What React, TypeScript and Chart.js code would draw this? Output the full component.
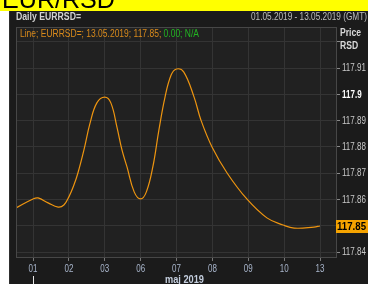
import React, { useEffect, useRef } from "react";
import { Chart, registerables } from "chart.js";

Chart.register(...registerables);

const dayLabels = ["01", "02", "03", "06", "07", "08", "09", "10", "13"];
const yTickValues = [117.84, 117.85, 117.86, 117.87, 117.88, 117.89, 117.9, 117.91, 117.92];
const yTickLabels = ["117.84", "", "117.86", "117.87", "117.88", "117.89", "117.9", "117.91", ""];
// x positions in trading-day index units (0 = 01.05)
const seriesX = [
  -0.474, 0, 0.14, 0.42, 0.7, 0.86, 1.0, 1.14, 1.25, 1.42, 1.59, 1.78, 2.0, 2.17, 2.34,
  2.48, 2.62, 2.82, 3.0, 3.16, 3.34, 3.51, 3.68, 3.85, 4.0, 4.2, 4.49, 4.68, 4.99, 5.41,
  5.96, 6.52, 6.97, 7.28, 7.83, 8.0,
];
const seriesY = [
  117.8568, 117.8602, 117.8606, 117.8587, 117.8571, 117.8579, 117.861, 117.8655, 117.870,
  117.8789, 117.8891, 117.8968, 117.899, 117.8968, 117.8876, 117.8789, 117.8724, 117.8629,
  117.8602, 117.8629, 117.8724, 117.8865, 117.899, 117.9074, 117.9097, 117.9086, 117.899,
  117.8903, 117.88, 117.8701, 117.8602, 117.853, 117.8503, 117.8491, 117.8495, 117.8499,
];
const lastValue = 117.85;
const lastLabel = "117.85";
const titleText = "EUR/RSD";
const headerText = "Daily EURRSD=";
const rangeText = "01.05.2019 - 13.05.2019 (GMT)";
const legendMain = "Line; EURRSD=; 13.05.2019; 117.85; ";
const legendChange = "0.00; N/A";
const monthLabel = "maj 2019";

const FAM = "'Liberation Sans', Arial, sans-serif";

function drawText(
  ctx: CanvasRenderingContext2D,
  text: string,
  x: number,
  y: number,
  font: string,
  color: string,
  sx: number,
  align: "left" | "center" = "left",
  baseline: CanvasTextBaseline = "alphabetic"
) {
  ctx.save();
  ctx.font = font;
  ctx.fillStyle = color;
  ctx.textBaseline = baseline;
  ctx.textAlign = align;
  ctx.translate(x, y);
  ctx.scale(sx, 1);
  ctx.fillText(text, 0, 0);
  ctx.restore();
}

function fitScale(ctx: CanvasRenderingContext2D, text: string, font: string, target: number) {
  ctx.save();
  ctx.font = font;
  const w = ctx.measureText(text).width;
  ctx.restore();
  return w > 0 ? target / w : 1;
}

const decorPlugin = {
  id: "decor",
  beforeDraw(chart: any) {
    const { ctx, chartArea } = chart;
    ctx.save();
    ctx.fillStyle = "#ffffff";
    ctx.fillRect(0, 0, 368, 284);
    ctx.fillStyle = "#ffff00";
    ctx.fillRect(0, 0, 368, 11);
    ctx.beginPath();
    ctx.rect(0, 0, 368, 11);
    ctx.clip();
    const tf = "25px " + FAM;
    drawText(ctx, titleText, 2, 8, tf, "#000000", fitScale(ctx, titleText, tf, 113));
    ctx.restore();

    ctx.save();
    ctx.fillStyle = "#1b1b1b";
    ctx.fillRect(9, 11, 359, 273);
    ctx.strokeStyle = "#2e2e2e";
    ctx.beginPath();
    ctx.moveTo(9.5, 11);
    ctx.lineTo(9.5, 284);
    ctx.stroke();
    ctx.fillStyle = "#212121";
    ctx.fillRect(chartArea.left, chartArea.top, chartArea.right - chartArea.left, chartArea.bottom - chartArea.top);
    ctx.restore();
  },
  afterDraw(chart: any) {
    const { ctx, chartArea, scales } = chart;
    ctx.save();
    ctx.strokeStyle = "#474747";
    ctx.lineWidth = 1;
    ctx.strokeRect(chartArea.left + 0.5, chartArea.top + 0.5, chartArea.right - chartArea.left, chartArea.bottom - chartArea.top);
    ctx.restore();

    const hf = "bold 10px " + FAM;
    drawText(ctx, headerText, 16, 20, hf, "#d2d2d2", fitScale(ctx, headerText, hf, 65));
    const rf = "10px " + FAM;
    drawText(ctx, rangeText, 251, 20, rf, "#bdbdbd", fitScale(ctx, rangeText, rf, 116));

    const lf = "10px " + FAM;
    const lsx = fitScale(ctx, legendMain + legendChange, lf, 179);
    drawText(ctx, legendMain, 20, 37, lf, "#d98a1b", lsx);
    ctx.save();
    ctx.font = lf;
    const w = ctx.measureText(legendMain).width * lsx;
    ctx.restore();
    drawText(ctx, legendChange, 20 + w, 37, lf, "#22b422", lsx);

    const pf = "bold 10px " + FAM;
    drawText(ctx, "Price", 340, 36, pf, "#d8d8d8", 0.86);
    drawText(ctx, "RSD", 340, 49, pf, "#d8d8d8", 0.86);

    // y tick labels
    yTickValues.forEach((v, i) => {
      const label = yTickLabels[i];
      if (!label) return;
      const bold = label === "117.9";
      const f = (bold ? "bold " : "") + "10px " + FAM;
      drawText(ctx, label, 342, scales.y.getPixelForValue(v) + 0.5, f, bold ? "#ffffff" : "#c8c8c8", 0.8, "left", "middle");
    });

    // current value box
    const yp = scales.y.getPixelForValue(lastValue);
    ctx.fillStyle = "#f5a300";
    ctx.fillRect(336, Math.round(yp) - 6, 32, 13);
    const bf = "bold 10px " + FAM;
    drawText(ctx, lastLabel, 337, yp + 1, bf, "#000000", fitScale(ctx, lastLabel, bf, 29), "left", "middle");

    // x tick labels
    dayLabels.forEach((d, i) => {
      drawText(ctx, d, scales.x.getPixelForValue(i), 272, "10px " + FAM, "#a9b6cc", 0.8, "center");
    });

    const x0 = Math.round(scales.x.getPixelForValue(0)) + 0.5;
    ctx.save();
    ctx.strokeStyle = "#e8e8e8";
    ctx.beginPath();
    ctx.moveTo(x0, 276);
    ctx.lineTo(x0, 284);
    ctx.stroke();
    ctx.restore();

    const mf = "bold 10px " + FAM;
    drawText(ctx, monthLabel, scales.x.getPixelForValue(4) + 8, 283, mf, "#c4cede", fitScale(ctx, monthLabel, mf, 39), "center");
  },
};

export default function App() {
  const ref = useRef<HTMLCanvasElement | null>(null);
  useEffect(() => {
    if (!ref.current) return;
    const chart = new Chart(ref.current, {
      type: "line",
      data: {
        datasets: [
          {
            data: seriesX.map((x, i) => ({ x, y: seriesY[i] })),
            borderColor: "#ee9510",
            borderWidth: 1.2,
            pointRadius: 0,
            tension: 0.4,
            fill: false,
          },
        ],
      },
      options: {
        responsive: false,
        animation: false,
        devicePixelRatio: 1,
        layout: { padding: { left: 16, top: 27, right: 0, bottom: 0 } },
        plugins: { legend: { display: false }, tooltip: { enabled: false } },
        scales: {
          x: {
            type: "linear",
            min: -0.474,
            max: 8.446,
            afterBuildTicks: (axis: any) => {
              axis.ticks = dayLabels.map((_, i) => ({ value: i }));
            },
            afterFit: (scale: any) => {
              scale.height = 27;
            },
            ticks: {
              autoSkip: false,
              maxRotation: 0,
              callback: () => "",
            },
            grid: { color: "#343434", tickColor: "#777777", tickLength: 4 },
            border: { color: "#474747" },
          },
          y: {
            type: "linear",
            position: "right",
            min: 117.8381,
            max: 117.9257,
            afterBuildTicks: (axis: any) => {
              axis.ticks = yTickValues.map((v) => ({ value: v }));
            },
            afterFit: (scale: any) => {
              scale.width = 32;
            },
            ticks: {
              autoSkip: false,
              callback: () => "",
            },
            grid: { color: "#343434", tickColor: "#8a8a8a", tickLength: 4 },
            border: { color: "#474747" },
          },
        },
      },
      plugins: [decorPlugin],
    });
    return () => chart.destroy();
  }, []);
  return (
    <div style={{ position: "fixed", left: 0, top: 0, width: 368, height: 284, background: "#fff" }}>
      <canvas ref={ref} width={368} height={284} style={{ display: "block" }} />
    </div>
  );
}
